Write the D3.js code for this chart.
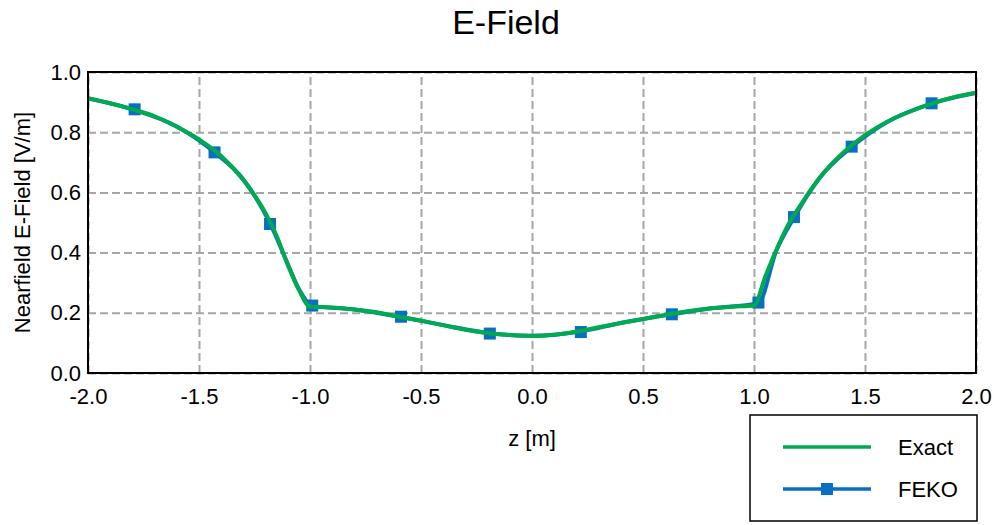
<!DOCTYPE html>
<html lang="en">
<head>
  <meta charset="UTF-8">
  <title>E-Field</title>
  <style>
    body { margin: 0; background: #fff; }
    svg text { font-family: "Liberation Sans", Arial, sans-serif; fill: #000; }
    .grid .tick line { stroke: #a6a6a6; stroke-width: 2; stroke-dasharray: 8 4; }
    .grid .domain { display: none; }
    .labels .domain { display: none; }
    .labels .tick text { font-size: 22px; }
  </style>
</head>
<body>
  <div class="chartBlock"></div>

  <script src="https://d3js.org/d3.v7.min.js"></script>
  <script>
    // exact solution
    const exactZ = [-2.0, -1.9, -1.8, -1.7, -1.6, -1.5, -1.4, -1.3, -1.2, -1.15, -1.1, -1.05, -1.0,
                    -0.9, -0.8, -0.7, -0.6, -0.5, -0.4, -0.3, -0.2, -0.1, 0.0,
                    0.1, 0.2, 0.3, 0.4, 0.5, 0.6, 0.7, 0.8, 0.9, 1.0,
                    1.05, 1.1, 1.15, 1.2, 1.3, 1.4, 1.5, 1.6, 1.7, 1.8, 1.9, 2.0]
    const exactE = [0.913, 0.896, 0.876, 0.853, 0.818, 0.776, 0.721, 0.641, 0.531, 0.455, 0.359, 0.276, 0.221,
                    0.218, 0.211, 0.202, 0.187, 0.174, 0.159, 0.144, 0.133, 0.126, 0.123,
                    0.127, 0.137, 0.152, 0.166, 0.179, 0.193, 0.205, 0.214, 0.220, 0.224,
                    0.319, 0.408, 0.487, 0.547, 0.653, 0.731, 0.790, 0.835, 0.868, 0.895, 0.916, 0.931]

    // FEKO line (mostly hidden under the exact curve)
    const fekoLineZ = [-2.0, -1.8, -1.6, -1.43, -1.3, -1.18, -1.1, -1.05, -0.99,
                       -0.8, -0.59, -0.4, -0.19, 0.0, 0.22, 0.4, 0.63, 0.8, 1.02,
                       1.1, 1.18, 1.3, 1.44, 1.6, 1.8, 2.0]
    const fekoLineE = [0.912, 0.876, 0.819, 0.733, 0.643, 0.497, 0.362, 0.279, 0.223,
                       0.211, 0.186, 0.159, 0.132, 0.124, 0.138, 0.166, 0.195, 0.214, 0.232,
                       0.405, 0.516, 0.652, 0.751, 0.834, 0.895, 0.930]

    // FEKO markers
    const fekoZ = [-1.79, -1.43, -1.18, -0.99, -0.59, -0.19, 0.22, 0.63, 1.02, 1.18, 1.44, 1.80]
    const fekoE = [0.876, 0.733, 0.495, 0.224, 0.187, 0.131, 0.136, 0.195, 0.234, 0.518, 0.752, 0.896]

    const xTicks = [-2.0, -1.5, -1.0, -0.5, 0.0, 0.5, 1.0, 1.5, 2.0]
    const yTicks = [0.0, 0.2, 0.4, 0.6, 0.8, 1.0]
    const seriesNames = ['Exact', 'FEKO']

    const width = 997, height = 525
    const plot = {left: 88, right: 976, top: 72, bottom: 373}
    const green = '#00aa50', blue = '#0a6fc2'

    const svg = d3.select('.chartBlock')
                  .append('svg')
                  .attr('width', width)
                  .attr('height', height)

    const xScale = d3.scaleLinear().domain([-2, 2]).range([plot.left, plot.right])
    const yScale = d3.scaleLinear().domain([0, 1]).range([plot.bottom, plot.top])
    const fmt = d => d.toFixed(1)

    // grid lines
    svg.append('g')
       .attr('class', 'grid')
       .attr('transform', `translate(0, ${plot.bottom})`)
       .call(d3.axisBottom(xScale).tickValues(xTicks).tickSize(-(plot.bottom - plot.top)).tickFormat(''))
    svg.append('g')
       .attr('class', 'grid')
       .attr('transform', `translate(${plot.left}, 0)`)
       .call(d3.axisLeft(yScale).tickValues(yTicks).tickSize(-(plot.right - plot.left)).tickFormat(''))

    // tick labels
    svg.append('g')
       .attr('class', 'labels')
       .attr('transform', `translate(0, ${plot.bottom})`)
       .call(d3.axisBottom(xScale).tickValues(xTicks).tickSize(0).tickPadding(15).tickFormat(fmt))
    svg.append('g')
       .attr('class', 'labels')
       .attr('transform', `translate(${plot.left}, 0)`)
       .call(d3.axisLeft(yScale).tickValues(yTicks).tickSize(0).tickPadding(7).tickFormat(fmt))

    // plot clip
    svg.append('clipPath').attr('id', 'plotClip')
       .append('rect')
       .attr('x', plot.left).attr('y', plot.top)
       .attr('width', plot.right - plot.left).attr('height', plot.bottom - plot.top)

    const lines = svg.append('g').attr('clip-path', 'url(#plotClip)')

    const exactData = exactZ.map((z, i) => ({z: z, e: exactE[i]}))
    const fekoLine = fekoLineZ.map((z, i) => ({z: z, e: fekoLineE[i]}))
    const fekoData = fekoZ.map((z, i) => ({z: z, e: fekoE[i]}))

    const line = d3.line()
                   .x(d => xScale(d.z))
                   .y(d => yScale(d.e))
                   .curve(d3.curveMonotoneX)

    // FEKO line + markers underneath
    lines.append('path')
         .datum(fekoLine)
         .attr('d', line)
         .attr('fill', 'none')
         .attr('stroke', blue)
         .attr('stroke-width', 4)

    lines.selectAll('rect.marker')
         .data(fekoData)
         .join('rect')
         .attr('class', 'marker')
         .attr('x', d => xScale(d.z) - 6)
         .attr('y', d => yScale(d.e) - 6)
         .attr('width', 12)
         .attr('height', 12)
         .attr('fill', blue)

    // exact line on top
    lines.append('path')
         .datum(exactData)
         .attr('d', line)
         .attr('fill', 'none')
         .attr('stroke', green)
         .attr('stroke-width', 4)

    // frame
    svg.append('rect')
       .attr('x', plot.left).attr('y', plot.top)
       .attr('width', plot.right - plot.left).attr('height', plot.bottom - plot.top)
       .attr('fill', 'none')
       .attr('stroke', '#000')
       .attr('stroke-width', 2)

    // title and axis labels
    svg.append('text')
       .attr('x', 506).attr('y', 34)
       .attr('text-anchor', 'middle')
       .style('font-size', '34px')
       .text('E-Field')

    svg.append('text')
       .attr('x', (plot.left + plot.right) / 2).attr('y', 446)
       .attr('text-anchor', 'middle')
       .style('font-size', '22px')
       .text('z [m]')

    svg.append('text')
       .attr('transform', `translate(30, ${(plot.top + plot.bottom) / 2}) rotate(-90)`)
       .attr('text-anchor', 'middle')
       .style('font-size', '22px')
       .text('Nearfield E-Field [V/m]')

    // legend
    const legend = svg.append('g').attr('transform', 'translate(750, 415)')
    legend.append('rect')
          .attr('width', 227).attr('height', 106)
          .attr('fill', '#fff')
          .attr('stroke', '#000')
          .attr('stroke-width', 1.5)

    const legendItem = legend.selectAll('g.item')
                             .data(seriesNames)
                             .join('g')
                             .attr('class', 'item')
                             .attr('transform', (d, i) => `translate(0, ${32 + i * 42})`)

    legendItem.append('line')
              .attr('x1', 33).attr('x2', 121)
              .attr('stroke', (d, i) => i === 0 ? green : blue)
              .attr('stroke-width', 3.5)

    legendItem.filter((d, i) => i === 1)
              .append('rect')
              .attr('x', 71).attr('y', -6)
              .attr('width', 12).attr('height', 12)
              .attr('fill', blue)

    legendItem.append('text')
              .attr('x', 148).attr('y', 8)
              .style('font-size', '22px')
              .text(d => d)
  </script>
</body>
</html>
